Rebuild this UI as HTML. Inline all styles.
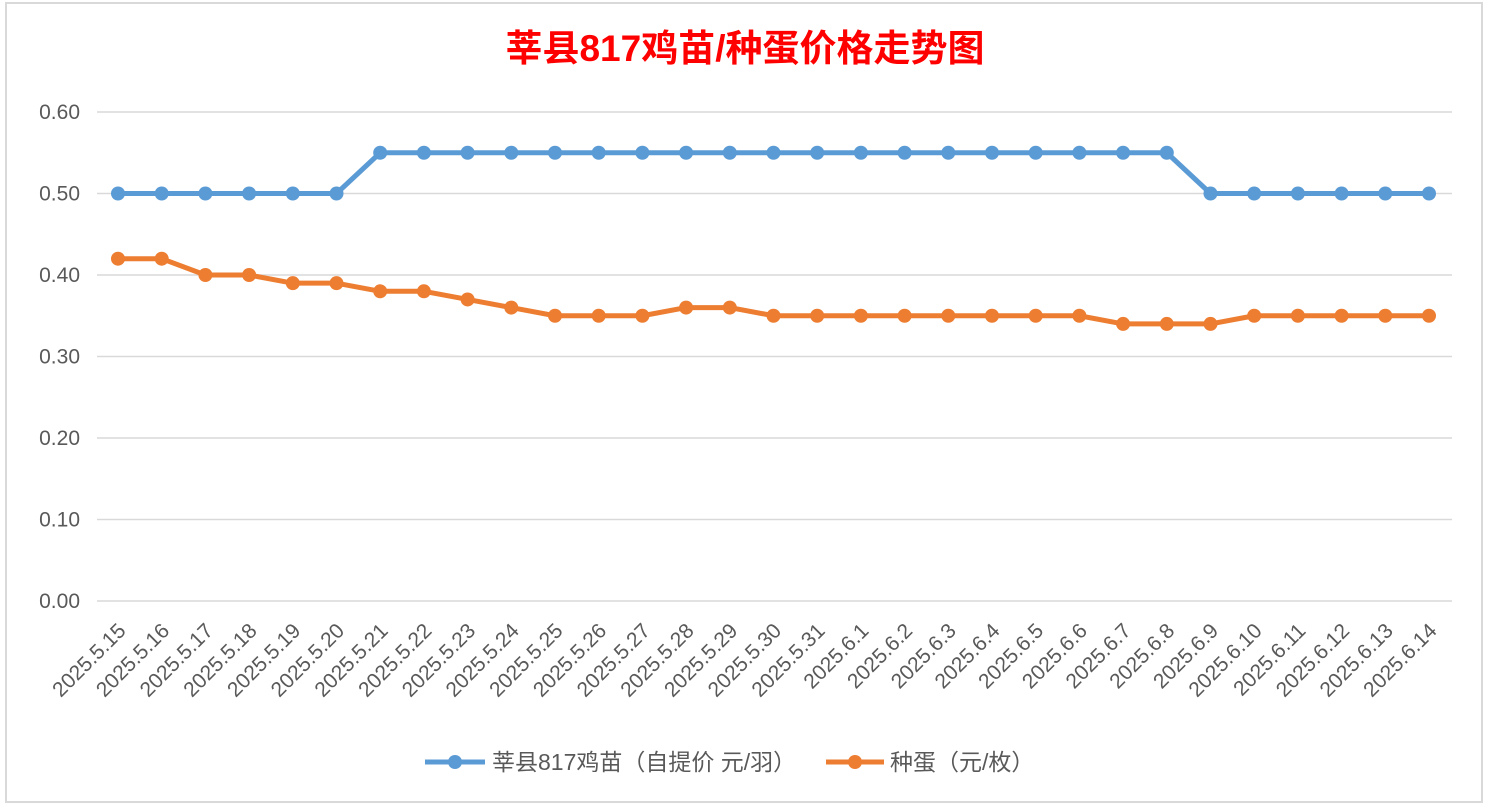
<!DOCTYPE html>
<html><head><meta charset="utf-8"><style>
html,body{margin:0;padding:0;background:#fff;}
svg{display:block;font-family:"Liberation Sans","Noto Sans CJK SC",sans-serif;}
</style></head><body>
<svg width="1488" height="810">
<rect x="6" y="3" width="1476" height="799" fill="#fff" stroke="#d9d9d9" stroke-width="2"/>
<text x="745" y="61" text-anchor="middle" font-size="37" font-weight="bold" fill="#ff0000" font-family="'Liberation Sans','Noto Sans CJK SC',sans-serif">莘县817鸡苗/种蛋价格走势图</text>
<g id="grid"></g><g id="xl"></g><g id="series"></g>
<g>
<line x1="425" y1="762" x2="485" y2="762" stroke="#5b9bd5" stroke-width="5"/>
<circle cx="455" cy="762" r="7" fill="#5b9bd5"/>
<text x="492" y="770" font-size="23" fill="#595959">莘县817鸡苗（自提价 元/羽）</text>
<line x1="826" y1="762" x2="884" y2="762" stroke="#ed7d31" stroke-width="5"/>
<circle cx="855" cy="762" r="7" fill="#ed7d31"/>
<text x="890" y="770" font-size="23" fill="#595959">种蛋（元/枚）</text>
</g>
</svg>
<script>
const categories=["2025.5.15","2025.5.16","2025.5.17","2025.5.18","2025.5.19","2025.5.20","2025.5.21","2025.5.22","2025.5.23","2025.5.24","2025.5.25","2025.5.26","2025.5.27","2025.5.28","2025.5.29","2025.5.30","2025.5.31","2025.6.1","2025.6.2","2025.6.3","2025.6.4","2025.6.5","2025.6.6","2025.6.7","2025.6.8","2025.6.9","2025.6.10","2025.6.11","2025.6.12","2025.6.13","2025.6.14"];
const chickPrice=[0.50,0.50,0.50,0.50,0.50,0.50,0.55,0.55,0.55,0.55,0.55,0.55,0.55,0.55,0.55,0.55,0.55,0.55,0.55,0.55,0.55,0.55,0.55,0.55,0.55,0.50,0.50,0.50,0.50,0.50,0.50];
const eggPrice=[0.42,0.42,0.40,0.40,0.39,0.39,0.38,0.38,0.37,0.36,0.35,0.35,0.35,0.36,0.36,0.35,0.35,0.35,0.35,0.35,0.35,0.35,0.35,0.34,0.34,0.34,0.35,0.35,0.35,0.35,0.35];
const yTicks=[0,0.1,0.2,0.3,0.4,0.5,0.6];
const NS="http://www.w3.org/2000/svg";
const x=i=>118+i*(1429-118)/(categories.length-1);
const y=v=>601-v*(601-112)/0.6;
function mk(t,a,p){const e=document.createElementNS(NS,t);for(const k in a)e.setAttribute(k,a[k]);p.appendChild(e);return e;}
const grid=document.getElementById('grid');
yTicks.forEach(v=>{
 const l=mk('line',{x1:97,x2:1452,y1:y(v),y2:y(v),stroke:'#d9d9d9','stroke-width':1.5},grid);
 
 
 const t=mk('text',{x:80,y:y(v)+7,'text-anchor':'end','font-size':21,fill:'#595959'},grid);
 t.textContent=v.toFixed(2);
 
 
});
const xl=document.getElementById('xl');
categories.forEach((c,i)=>{
 const t=mk('text',{x:x(i)+9,y:632,'text-anchor':'end','font-size':21,fill:'#595959',transform:`rotate(-45 ${x(i)+9} 632)`},xl);
 t.textContent=c;
 
 
});
const sg=document.getElementById('series');
[[chickPrice,'#5b9bd5','chick'],[eggPrice,'#ed7d31','egg']].forEach(([d,col,n])=>{
 const p=mk('polyline',{points:d.map((v,i)=>x(i)+','+y(v)).join(' '),fill:'none',stroke:col,'stroke-width':5,'stroke-linejoin':'round'},sg);
 
 
 d.forEach((v,i)=>{
  const c=mk('circle',{cx:x(i),cy:y(v),r:7,fill:col},sg);
  
  
 });
});
</script>
</body></html>
